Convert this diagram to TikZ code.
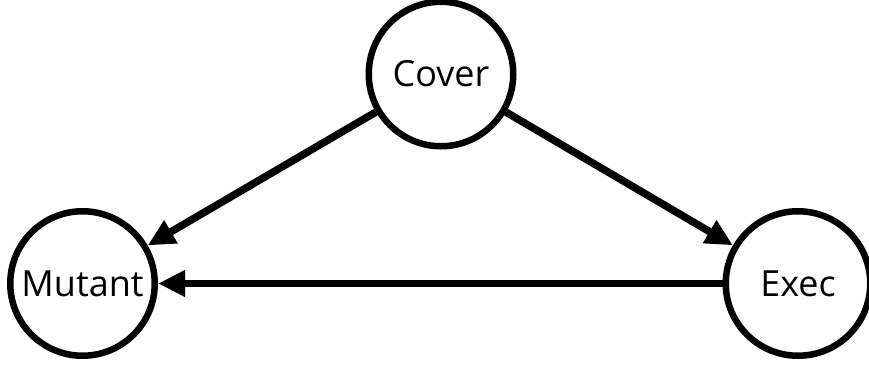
\documentclass[tikz,border=0pt]{standalone}
\usepackage{fontspec}
\setmainfont{Open Sans}
\usetikzlibrary{arrows.meta}
\begin{document}
\begin{tikzpicture}[x=1pt,y=1pt,
  state/.style={draw=black,circle,line width=6.5pt,minimum size=144.5pt,inner sep=0pt,
    font=\fontsize{36}{43}\selectfont},
  conn/.style={line width=7.5pt,-{Triangle[length=27pt,width=25pt]}}]
\clip (0,0) rectangle (869,365);
\useasboundingbox (0,0) rectangle (869,365);
\node[state] (cover) at (441,291) {Cover};
\node[state] (mutant) at (82.5,81.5) {Mutant};
\node[state] (exec) at (798,81.5) {Exec};
\draw[conn] (cover) -- (mutant);
\draw[conn] (cover) -- (exec);
\draw[conn] (exec) -- (mutant);
\end{tikzpicture}
\end{document}
